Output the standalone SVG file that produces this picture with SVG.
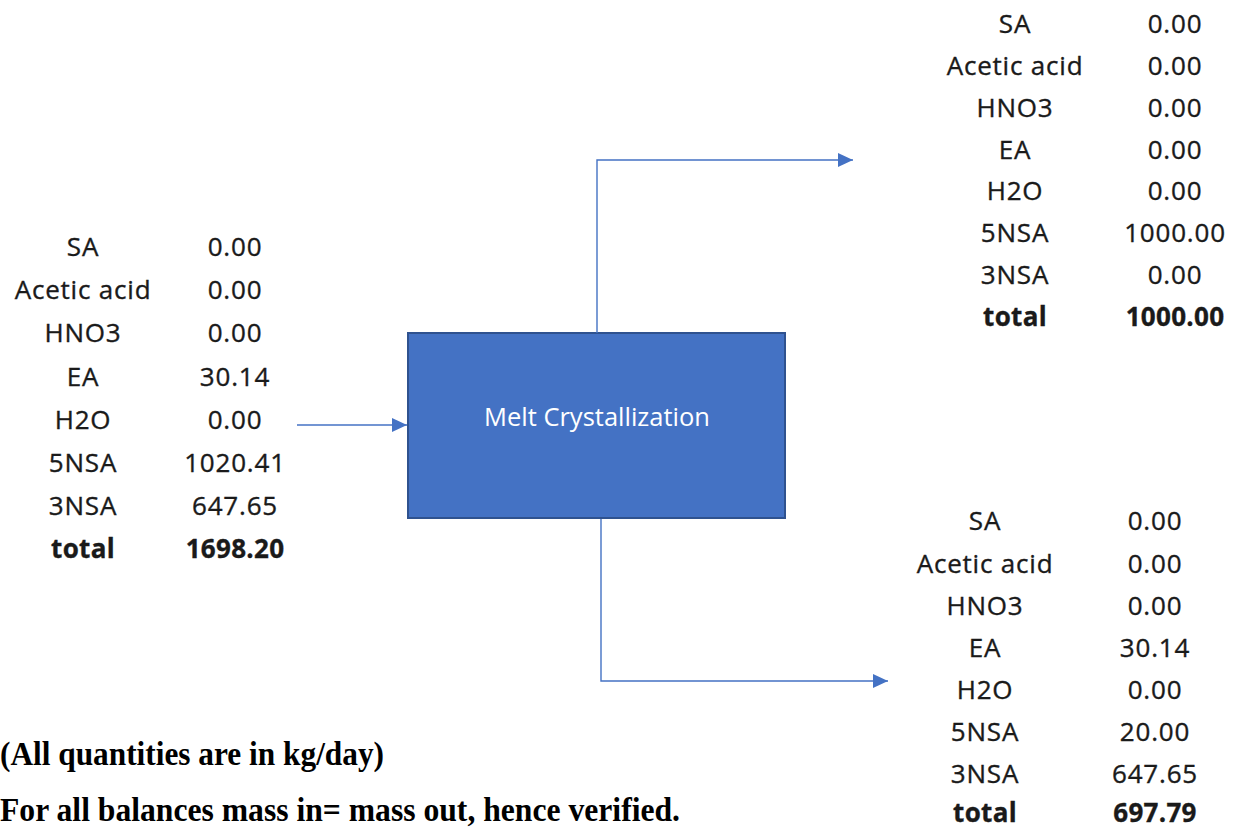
<svg xmlns="http://www.w3.org/2000/svg" width="1237" height="830" viewBox="0 0 1237 830">
  <style>
    .t { font-family: "Open Sans", Lato, "Liberation Sans", sans-serif; font-size: 26px; letter-spacing: 0.8px; fill: #1a1a1a; stroke: #1a1a1a; stroke-width: 0.35; text-anchor: middle; }
    .b { font-weight: bold; letter-spacing: 0.3px; }
    .lbl { font-family: "Open Sans", Lato, "Liberation Sans", sans-serif; font-size: 25.5px; fill: #ffffff; text-anchor: middle; }
    .note { font-family: "Liberation Serif", "Times New Roman", serif; font-weight: bold; font-size: 33px; fill: #000; }
    .flow { fill: none; stroke: #4472C4; stroke-width: 1.4; }
  </style>
  <defs>
    <marker id="arrow" markerWidth="15" markerHeight="14" refX="15" refY="7" orient="auto" markerUnits="userSpaceOnUse">
      <path d="M0,0 L15,7 L0,14 Z" fill="#4472C4"/>
    </marker>
  </defs>
  <rect width="1237" height="830" fill="#ffffff"/>

  <!-- feed stream table -->
  <g id="feed">
    <text class="t" x="83" y="256">SA</text><text class="t" x="235" y="256">0.00</text>
    <text class="t" x="83" y="299">Acetic acid</text><text class="t" x="235" y="299">0.00</text>
    <text class="t" x="83" y="342">HNO3</text><text class="t" x="235" y="342">0.00</text>
    <text class="t" x="83" y="386">EA</text><text class="t" x="235" y="386">30.14</text>
    <text class="t" x="83" y="429">H2O</text><text class="t" x="235" y="429">0.00</text>
    <text class="t" x="83" y="472">5NSA</text><text class="t" x="235" y="472">1020.41</text>
    <text class="t" x="83" y="515">3NSA</text><text class="t" x="235" y="515">647.65</text>
    <text class="t b" x="83" y="558">total</text><text class="t b" x="235" y="558">1698.20</text>
  </g>

  <!-- crystallizer unit -->
  <g id="crystallizer">
    <rect x="408" y="333" width="377" height="185" fill="#4472C4" stroke="#2F528F" stroke-width="2"/>
    <text class="lbl" x="597" y="426">Melt Crystallization</text>
  </g>

  <!-- product (crystal) stream table -->
  <g id="product">
    <text class="t" x="1015" y="33">SA</text><text class="t" x="1175" y="33">0.00</text>
    <text class="t" x="1015" y="75">Acetic acid</text><text class="t" x="1175" y="75">0.00</text>
    <text class="t" x="1015" y="117">HNO3</text><text class="t" x="1175" y="117">0.00</text>
    <text class="t" x="1015" y="159">EA</text><text class="t" x="1175" y="159">0.00</text>
    <text class="t" x="1015" y="200">H2O</text><text class="t" x="1175" y="200">0.00</text>
    <text class="t" x="1015" y="242">5NSA</text><text class="t" x="1175" y="242">1000.00</text>
    <text class="t" x="1015" y="284">3NSA</text><text class="t" x="1175" y="284">0.00</text>
    <text class="t b" x="1015" y="326">total</text><text class="t b" x="1175" y="326">1000.00</text>
  </g>

  <!-- residue (melt) stream table -->
  <g id="residue">
    <text class="t" x="985" y="530">SA</text><text class="t" x="1155" y="530">0.00</text>
    <text class="t" x="985" y="573">Acetic acid</text><text class="t" x="1155" y="573">0.00</text>
    <text class="t" x="985" y="615">HNO3</text><text class="t" x="1155" y="615">0.00</text>
    <text class="t" x="985" y="657">EA</text><text class="t" x="1155" y="657">30.14</text>
    <text class="t" x="985" y="699">H2O</text><text class="t" x="1155" y="699">0.00</text>
    <text class="t" x="985" y="741">5NSA</text><text class="t" x="1155" y="741">20.00</text>
    <text class="t" x="985" y="783">3NSA</text><text class="t" x="1155" y="783">647.65</text>
    <text class="t b" x="985" y="822">total</text><text class="t b" x="1155" y="822">697.79</text>
  </g>

  <!-- stream connectors -->
  <g id="connectors">
    <path class="flow" d="M297,425 H407" marker-end="url(#arrow)"/>
    <path class="flow" d="M597,333 V160 H853" marker-end="url(#arrow)"/>
    <path class="flow" d="M601,519 V681 H888" marker-end="url(#arrow)"/>
  </g>

  <!-- notes -->
  <g id="notes">
    <text class="note" x="0" y="765" textLength="384" lengthAdjust="spacingAndGlyphs">(All quantities are in kg/day)</text>
    <text class="note" x="0" y="821" textLength="680" lengthAdjust="spacingAndGlyphs">For all balances mass in= mass out, hence verified.</text>
  </g>
</svg>
